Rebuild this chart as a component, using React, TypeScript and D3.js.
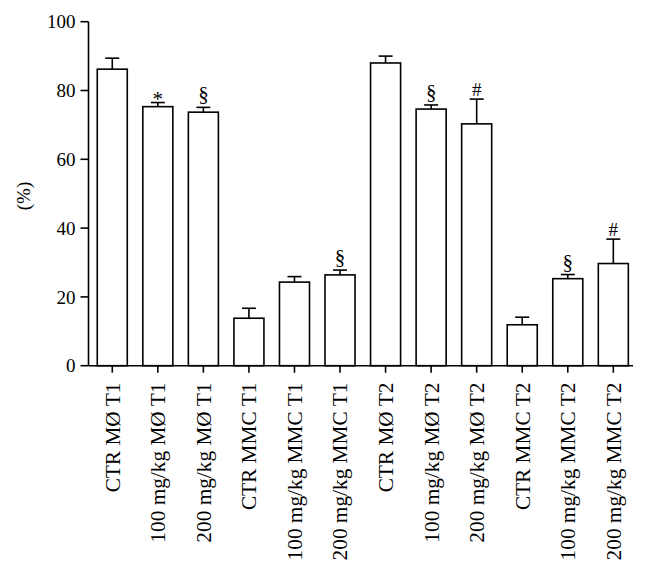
import React from "react";
import * as d3 from "d3";

const categories = [
  "CTR MØ T1",
  "100 mg/kg MØ T1",
  "200 mg/kg MØ T1",
  "CTR MMC T1",
  "100 mg/kg MMC T1",
  "200 mg/kg MMC T1",
  "CTR MØ T2",
  "100 mg/kg MØ T2",
  "200 mg/kg MØ T2",
  "CTR MMC T2",
  "100 mg/kg MMC T2",
  "200 mg/kg MMC T2",
];
const means = [86.2, 75.3, 73.7, 13.8, 24.3, 26.4, 88.0, 74.6, 70.3, 11.9, 25.3, 29.7];
const errors = [3.2, 1.2, 1.4, 2.9, 1.6, 1.4, 2.0, 1.2, 7.2, 2.2, 1.2, 7.1];
const marks = ["", "*", "§", "", "", "§", "", "§", "#", "", "§", "#"];
const yTicks = [0, 20, 40, 60, 80, 100];
const yLabel = "(%)";

const W = 648;
const H = 575;
const FONT = "'Liberation Serif', 'Times New Roman', serif";

const markStyle: Record<string, { size: number; dy: number }> = {
  "*": { size: 21, dy: 3 },
  "§": { size: 21, dy: -6 },
  "#": { size: 19, dy: -3 },
};

export default function App() {
  const x = d3
    .scaleBand<string>()
    .domain(categories)
    .range([89.5, 636.1])
    .paddingInner(0.341)
    .paddingOuter(0.1705);
  const y = d3.scaleLinear().domain([0, 100]).range([365.7, 21.7]);
  const axisX = 88.5;
  const y0 = y(0);
  const sw = 1.6;
  const capW = 14;

  return (
    <svg
      width={W}
      height={H}
      style={{ position: "absolute", left: 0, top: 0, background: "#fff" }}
      fontFamily={FONT}
    >
      <rect x={0} y={0} width={W} height={H} fill="#fff" />
      {categories.map((c, i) => {
        const bx = x(c)!;
        const bw = x.bandwidth();
        const cx = bx + bw / 2;
        const top = y(means[i]);
        const capY = y(means[i] + errors[i]);
        const ms = markStyle[marks[i]];
        return (
          <g key={c}>
            <rect
              x={bx}
              y={top}
              width={bw}
              height={y0 - top}
              fill="#fff"
              stroke="#000"
              strokeWidth={sw}
            />
            <line x1={cx} x2={cx} y1={top} y2={capY} stroke="#000" strokeWidth={sw} />
            <line
              x1={cx - capW / 2}
              x2={cx + capW / 2}
              y1={capY}
              y2={capY}
              stroke="#000"
              strokeWidth={sw}
            />
            {ms && (
              <text
                x={cx}
                y={capY + ms.dy}
                textAnchor="middle"
                fontSize={ms.size}
                fill="#000"
              >
                {marks[i]}
              </text>
            )}
          </g>
        );
      })}
      <line x1={axisX} x2={axisX} y1={y(100)} y2={y0} stroke="#000" strokeWidth={sw} />
      {yTicks.map((t) => (
        <g key={t}>
          <line x1={axisX - 8} x2={axisX} y1={y(t)} y2={y(t)} stroke="#000" strokeWidth={sw} />
          <text
            x={axisX - 13}
            y={y(t)}
            dy="0.35em"
            textAnchor="end"
            fontSize={19}
            fill="#000"
          >
            {t}
          </text>
        </g>
      ))}
      <text
        transform={`translate(30,196) rotate(-90)`}
        textAnchor="middle"
        fontSize={19}
        fill="#000"
      >
        {yLabel}
      </text>
      <line x1={axisX} x2={633} y1={y0} y2={y0} stroke="#000" strokeWidth={sw} />
      {categories.map((c) => {
        const cx = x(c)! + x.bandwidth() / 2;
        return (
          <g key={"t" + c}>
            <line x1={cx} x2={cx} y1={y0} y2={y0 + 7} stroke="#000" strokeWidth={sw} />
            <text
              transform={`translate(${cx},${y0 + 17}) rotate(-90)`}
              dy="0.35em"
              textAnchor="end"
              fontSize={21.3}
              fill="#000"
            >
              {c}
            </text>
          </g>
        );
      })}
    </svg>
  );
}
